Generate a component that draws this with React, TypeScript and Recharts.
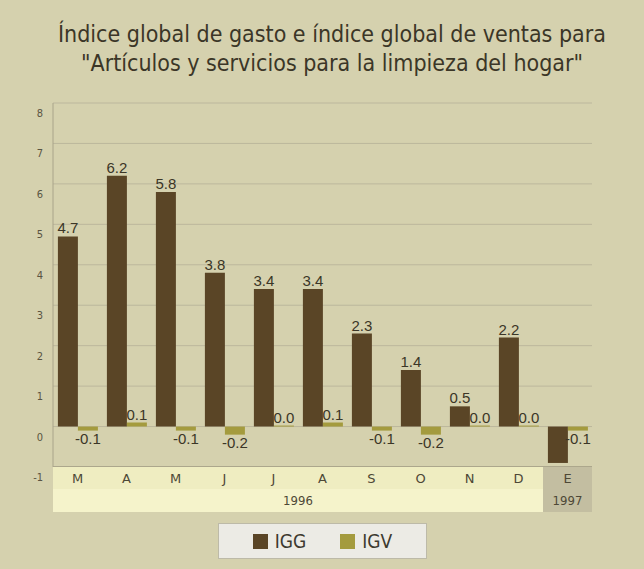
import {
  BarChart,
  Bar,
  XAxis,
  YAxis,
  CartesianGrid,
  Legend,
  LabelList,
} from "recharts";

const months = ["M", "A", "M", "J", "J", "A", "S", "O", "N", "D", "E"];
const years = ["1996", "1996", "1996", "1996", "1996", "1996", "1996", "1996", "1996", "1996", "1997"];
const igg = [4.7, 6.2, 5.8, 3.8, 3.4, 3.4, 2.3, 1.4, 0.5, 2.2, -0.9];
const igv = [-0.1, 0.1, -0.1, -0.2, 0.0, 0.1, -0.1, -0.2, 0.0, 0.0, -0.1];
const yTicks = [-1, 0, 1, 2, 3, 4, 5, 6, 7, 8];
const titleLines = [
  "Índice global de gasto e índice global de ventas para",
  "\"Artículos y servicios para la limpieza del hogar\"",
];

const data = months.map((m, i) => ({ month: m, year: years[i], IGG: igg[i], IGV: igv[i] }));

const BG = "#d5d1ae";
const IGG_COLOR = "#5a4526";
const IGV_COLOR = "#a49b3e";
const TEXT = "#3b3627";
const narrow = "'Liberation Sans Narrow', 'DejaVu Sans Condensed', sans-serif";

const YTick = ({ x, y, payload }: any) => (
  <text x={x - 2} y={y + 14} textAnchor="end" fontSize={11} fill="#5a5442" fontFamily={narrow}>
    {payload.value}
  </text>
);

const MonthTick = ({ x, y, payload, index }: any) => {
  const half = payload.offset || 24.5;
  const yr = years[index];
  const isLast = yr !== years[0];
  const first = index === 0 || years[index - 1] !== yr;
  const count = years.filter((v) => v === yr).length;
  const rowH = 22;
  return (
    <g>
      <rect
        x={x - half}
        y={y}
        width={half * 2}
        height={rowH}
        fill={isLast ? "#c3bea1" : "#efedc1"}
      />
      <text x={x} y={y + 16} textAnchor="middle" fontSize={13} fill="#4d4836" fontFamily="'DejaVu Sans', sans-serif">
        {payload.value}
      </text>
      {first && (
        <g>
          <rect
            x={x - half}
            y={y + rowH}
            width={half * 2 * count}
            height={45 - rowH}
            fill={isLast ? "#c3bea1" : "#f5f3cb"}
          />
          <text
            x={x - half + half * count}
            y={y + rowH + 16}
            textAnchor="middle"
            fontSize={13}
            fill="#4d4836"
            fontFamily={narrow}
          >
            {yr}
          </text>
        </g>
      )}
    </g>
  );
};

const LegendBox = () => (
  <div
    style={{
      width: 209,
      height: 36,
      background: "#ecebe5",
      border: "1px solid #bdbaa8",
      boxSizing: "border-box",
      display: "flex",
      alignItems: "center",
      justifyContent: "center",
      gap: 34,
      fontFamily: narrow,
      fontSize: 19,
      color: "#3d3a30",
    }}
  >
    {[
      { name: "IGG", color: IGG_COLOR },
      { name: "IGV", color: IGV_COLOR },
    ].map((it) => (
      <span key={it.name} style={{ display: "flex", alignItems: "center", gap: 7 }}>
        <span style={{ width: 15, height: 15, background: it.color, display: "inline-block" }} />
        {it.name}
      </span>
    ))}
  </div>
);

const fmt = (v: any) => (Number(v) < -0.5 ? "" : Number(v).toFixed(1));

export default function App() {
  return (
    <div style={{ position: "absolute", left: 0, top: 0, width: 644, height: 569, background: BG }}>
      <div
        style={{
          position: "absolute",
          left: 0,
          top: 20,
          width: 664,
          textAlign: "center",
          fontFamily: narrow,
          fontSize: 23,
          lineHeight: "29px",
          color: TEXT,
        }}
      >
        {titleLines.map((t) => (
          <div key={t}>{t}</div>
        ))}
      </div>
      <BarChart
        width={644}
        height={569}
        data={data}
        margin={{ top: 103, right: 52, left: 23, bottom: 57 }}
        barCategoryGap="10%"
        barGap={0}
      >
        <CartesianGrid vertical={false} stroke="#bcb79d" strokeWidth={1} />
        <XAxis
          dataKey="month"
          height={45}
          interval={0}
          tickSize={0}
          tickMargin={0}
          tickLine={false}
          axisLine={{ stroke: "#8f8a72" }}
          tick={<MonthTick />}
        />
        <YAxis
          width={30}
          domain={[-1, 8]}
          ticks={yTicks}
          interval={0}
          tickLine={false}
          axisLine={{ stroke: "#a9a48a" }}
          tick={<YTick />}
        />
        <YAxis
          yAxisId="frame"
          orientation="right"
          width={0}
          domain={[-1, 8]}
          tick={false}
          tickLine={false}
          axisLine={{ stroke: "#a9a48a" }}
        />
        <Legend
          layout="vertical"
          align="center"
          verticalAlign="middle"
          content={<LegendBox />}
          wrapperStyle={{ left: 218, top: 523, width: 209, height: 36 }}
        />
        <Bar dataKey="IGG" fill={IGG_COLOR} isAnimationActive={false}>
          <LabelList
            dataKey="IGG"
            position="top"
            offset={3}
            formatter={fmt}
            fontSize={15}
            fill={TEXT}
            fontFamily="'Liberation Sans', sans-serif"
          />
        </Bar>
        <Bar dataKey="IGV" fill={IGV_COLOR} minPointSize={1} isAnimationActive={false}>
          <LabelList
            dataKey="IGV"
            position="top"
            offset={3}
            formatter={fmt}
            fontSize={15}
            fill={TEXT}
            fontFamily="'Liberation Sans', sans-serif"
          />
        </Bar>
      </BarChart>
    </div>
  );
}
